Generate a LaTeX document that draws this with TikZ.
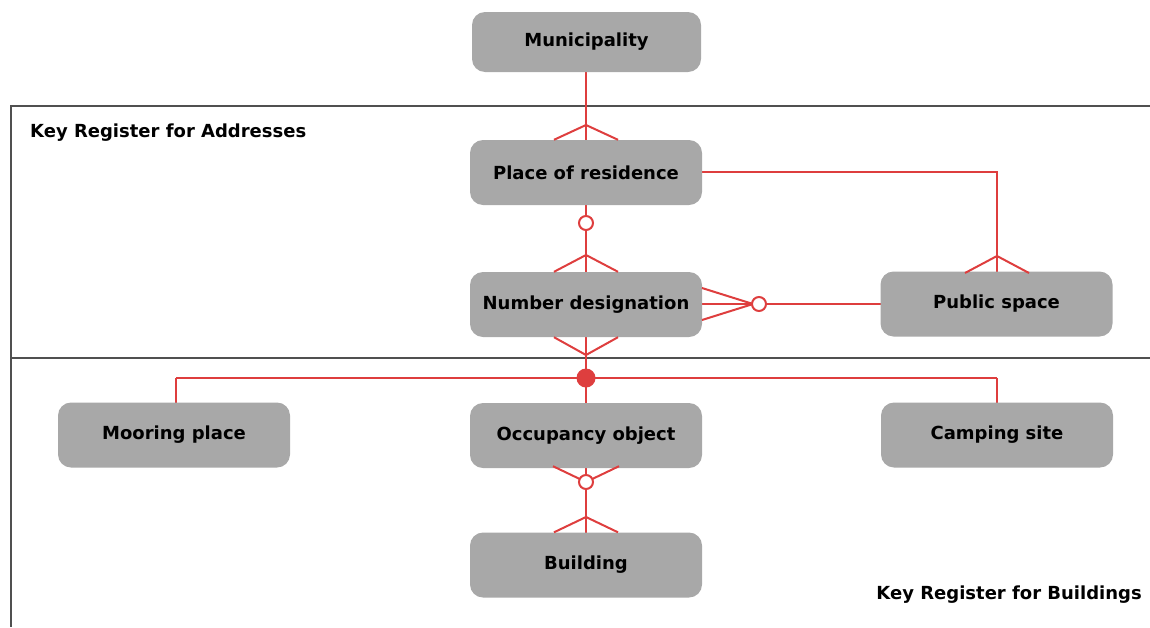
\documentclass[tikz,border=0pt]{standalone}
\usepackage{fontspec}
\setmainfont{DejaVu Sans}
\usetikzlibrary{calc}
\definecolor{boxgray}{RGB}{168,168,168}
\definecolor{relred}{RGB}{222,62,62}
\definecolor{framegray}{RGB}{80,80,80}
\begin{document}
\begin{tikzpicture}[x=1pt,y=-1pt,
  entity/.style={fill=boxgray, draw=none, rounded corners=13pt, minimum width=232pt, minimum height=65pt, inner sep=0pt, font=\fontsize{18}{22}\selectfont\bfseries},
  rel/.style={draw=relred, line width=2pt},
  framel/.style={draw=framegray, line width=1.6pt},
  region/.style={font=\fontsize{18}{22}\selectfont\bfseries, inner sep=0pt},
  opt/.style={circle, draw=relred, line width=2pt, fill=white, minimum size=14pt, inner sep=0pt},
  must/.style={circle, fill=relred, minimum size=19pt, inner sep=0pt}
]
\useasboundingbox (0,0) rectangle (1150,627);
% frame
\coordinate (fTL) at (11,106);
\coordinate (fTR) at (1150,106);
\coordinate (fBL) at (11,627);
\coordinate (fML) at (11,358);
\coordinate (fMR) at (1150,358);
\draw[framel] (fTR) -- (fTL) -- (fBL);
\draw[framel] (fML) -- (fMR);
\node[region, anchor=west] (kra) at (30,133) {Key Register for Addresses};
\node[region, anchor=east] (krb) at (1142,595) {Key Register for Buildings};
% connectors (drawn before boxes)
\coordinate (junc) at (586,378);
\coordinate (jl) at (176,378);
\coordinate (jr) at (997,378);
\coordinate (prr) at (997,172);
\draw[rel] (586,42) -- (586,172);
\draw[rel] (586,172) -- (586,304);
\draw[rel] (586,304) -- (junc) -- (586,435);
\draw[rel] (586,435) -- (586,565);
\draw[rel] (jl) -- (jr);
\draw[rel] (jl) -- (176,435);
\draw[rel] (jr) -- (997,435);
\draw[rel] (586,172) -- (prr) -- (997,304);
\draw[rel] (586,304) -- (996,304);
% entities
\node[entity, minimum width=229pt, minimum height=60pt] (mun) at (586.5,42) {Municipality};
\node[entity] (pr) at (586,172.5) {Place of residence};
\node[entity] (nd) at (586,304.5) {Number designation};
\node[entity] (ps) at (996.5,304) {Public space};
\node[entity] (mp) at (174,435) {Mooring place};
\node[entity] (oc) at (586,435.5) {Occupancy object};
\node[entity] (cs) at (997,435) {Camping site};
\node[entity] (bd) at (586,565) {Building};
% crow's feet
\draw[rel] ($(pr.north)+(-32,0)$) -- (586,125) -- ($(pr.north)+(32,0)$);
\draw[rel] ($(nd.north)+(-32,0)$) -- (586,255) -- ($(nd.north)+(32,0)$);
\draw[rel] ($(nd.south)+(-32,0)$) -- (586,355) -- ($(nd.south)+(32,0)$);
\draw[rel] (997-32,273) -- (997,256) -- (997+32,273);
\draw[rel] (702,288) -- (753,304) -- (702,320);
\draw[rel] ($(bd.north)+(-32,0)$) -- (586,517) -- ($(bd.north)+(32,0)$);
\draw[rel] ($(oc.south)+(-33,-2)$) -- (586,482) -- ($(oc.south)+(33,-2)$);
% optionality markers
\node[opt] (o1) at (586,223) {};
\node[opt] (o2) at (759,304) {};
\node[opt] (o3) at (586,482) {};
\node[must] (dot) at (junc) {};
\end{tikzpicture}
\end{document}
